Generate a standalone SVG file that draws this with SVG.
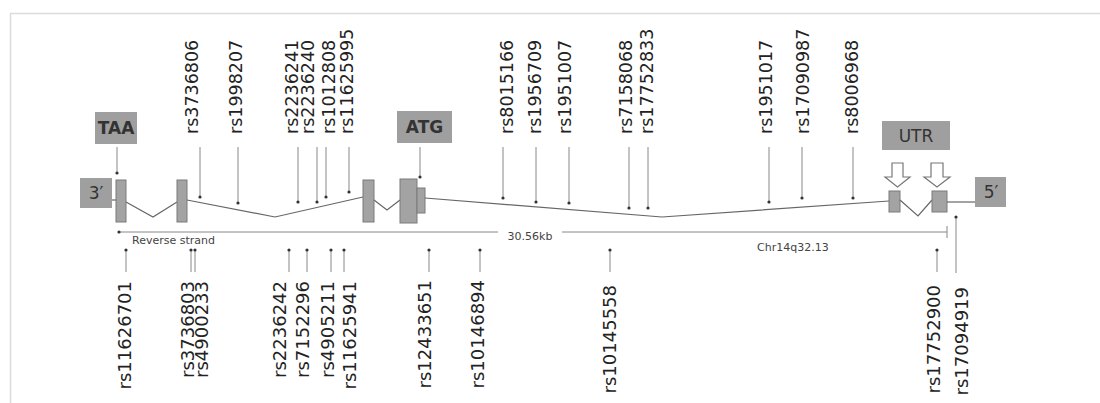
<svg xmlns="http://www.w3.org/2000/svg" width="1100" height="403" viewBox="0 0 1100 403">
<style>
.frame{stroke:#dcdcdc;stroke-width:1.5;fill:none}
.lbl{fill:#9f9f9f}
.lt{font-family:"DejaVu Sans",Verdana,sans-serif;font-size:17px;fill:#333}
.exon{fill:#a3a3a3;stroke:#7a7a7a;stroke-width:1}
.gene{stroke:#666;stroke-width:1.2;fill:none}
.snp{stroke:#888;stroke-width:1;fill:none}
.dot{fill:#333}
.snpt{font-family:"DejaVu Sans",Verdana,sans-serif;font-size:17.5px;fill:#222}
.snpb{font-family:"DejaVu Sans",Verdana,sans-serif;font-size:18px;fill:#222;text-anchor:end}
.small{font-family:"DejaVu Sans",Verdana,sans-serif;font-size:11px;fill:#444}
.harrow{fill:#fff;stroke:#777;stroke-width:1.2}
</style>
<rect x="0" y="0" width="1100" height="403" fill="#fff"/>
<path class="frame" d="M10.5,403 V13.5 H1100"/>

<g id="gene-structure">
  <path class="gene" d="M112,200 H116"/>
  <rect class="exon" x="116" y="180" width="10" height="42"/>
  <path class="gene" d="M126,202 L153,217 L177,202"/>
  <rect class="exon" x="177" y="180" width="10" height="42"/>
  <path class="gene" d="M187,200 L275,217 L363,197"/>
  <rect class="exon" x="363" y="180" width="11" height="42"/>
  <path class="gene" d="M374,200 L387,210 L400,200"/>
  <rect class="exon" x="400" y="179" width="17" height="44"/>
  <rect class="exon" x="417" y="188" width="8" height="25"/>
  <path class="gene" d="M425,198 L662,217 L889,201"/>
  <rect class="exon" x="889" y="191" width="11" height="21"/>
  <path class="gene" d="M900,200 L918,216 L932,200"/>
  <rect class="exon" x="932" y="191" width="15" height="21"/>
  <path class="gene" d="M947,202 H975"/>
</g>

<g id="node-3prime">
  <rect class="lbl" x="80" y="178" width="32" height="30"/>
  <text class="lt" x="96" y="199" text-anchor="middle">3′</text>
</g>
<g id="node-5prime">
  <rect class="lbl" x="975" y="177" width="31" height="30"/>
  <text class="lt" x="991" y="198" text-anchor="middle">5′</text>
</g>
<g id="node-TAA">
  <rect class="lbl" x="95" y="112" width="42" height="32"/>
  <text class="lt" x="116" y="134" text-anchor="middle" font-weight="bold">TAA</text>
</g>
<g id="node-ATG">
  <rect class="lbl" x="397" y="111" width="55" height="32"/>
  <text class="lt" x="424.5" y="133" text-anchor="middle" font-weight="bold">ATG</text>
</g>
<g id="node-UTR">
  <rect class="lbl" x="882" y="121" width="68" height="29"/>
  <text class="lt" x="916" y="142" text-anchor="middle">UTR</text>
</g>

<g id="connectors">
  <path class="snp" d="M117,147 V172 M420,147 V177"/>
  <circle class="dot" cx="117" cy="173" r="1.6"/>
  <circle class="dot" cx="420" cy="177" r="1.6"/>
  <path class="harrow" d="M892,163 H903 V177 H910 L897.5,187 L885,177 H892 Z"/>
  <path class="harrow" d="M931,163 H943 V177 H950 L937,187 L924,177 H931 Z"/>
  <path class="snp" d="M200,147V197 M238,147V203 M298,147V202 M317,147V202 M326,147V197 M349,147V192 M503,147V198 M536,147V202 M569,147V203 M629,147V208 M648,147V208 M769,147V202 M802,147V198 M853,147V198"/>
  <g class="dot">
    <circle cx="200" cy="197" r="1.6"/><circle cx="238" cy="203" r="1.6"/><circle cx="298" cy="202" r="1.6"/>
    <circle cx="317" cy="202" r="1.6"/><circle cx="326" cy="197" r="1.6"/><circle cx="349" cy="192" r="1.6"/>
    <circle cx="503" cy="198" r="1.6"/><circle cx="536" cy="202" r="1.6"/><circle cx="569" cy="203" r="1.6"/>
    <circle cx="629" cy="208" r="1.6"/><circle cx="648" cy="208" r="1.6"/><circle cx="769" cy="202" r="1.6"/>
    <circle cx="802" cy="198" r="1.6"/><circle cx="853" cy="198" r="1.6"/>
  </g>
  <path class="snp" d="M126,250V272 M191,250V272 M195,250V272 M289,250V272 M307,250V272 M331,250V272 M344,250V272 M429,250V272 M480,250V272 M610,250V272 M937,250V272 M956,217V273"/>
  <g class="dot">
    <circle cx="126" cy="250" r="1.6"/><circle cx="191" cy="250" r="1.6"/><circle cx="195" cy="250" r="1.6"/>
    <circle cx="289" cy="250" r="1.6"/><circle cx="307" cy="250" r="1.6"/><circle cx="331" cy="250" r="1.6"/>
    <circle cx="344" cy="250" r="1.6"/><circle cx="429" cy="250" r="1.6"/><circle cx="480" cy="250" r="1.6"/>
    <circle cx="610" cy="250" r="1.6"/><circle cx="937" cy="250" r="1.6"/><circle cx="956" cy="217" r="1.6"/>
  </g>
  <path class="snp" d="M119,232 H498 M562,232 H947 M947,226 V238" stroke="#777"/>
  <circle class="dot" cx="119" cy="232" r="1.6"/>
</g>

<g id="scale-texts">
  <text class="small" x="132" y="244">Reverse strand</text>
  <text class="small" x="530" y="240" text-anchor="middle" font-size="12.5">30.56kb</text>
  <text class="small" x="757" y="251">Chr14q32.13</text>
</g>

<g id="snp-labels-top">
  <text class="snpt" transform="translate(198,134) rotate(-90)">rs3736806</text>
  <text class="snpt" transform="translate(242,134) rotate(-90)">rs1998207</text>
  <text class="snpt" transform="translate(298,134) rotate(-90)">rs2236241</text>
  <text class="snpt" transform="translate(314,134) rotate(-90)">rs2236240</text>
  <text class="snpt" transform="translate(335,134) rotate(-90)">rs1012808</text>
  <text class="snpt" transform="translate(353,134) rotate(-90)">rs11625995</text>
  <text class="snpt" transform="translate(513,134) rotate(-90)">rs8015166</text>
  <text class="snpt" transform="translate(541,134) rotate(-90)">rs1956709</text>
  <text class="snpt" transform="translate(571,134) rotate(-90)">rs1951007</text>
  <text class="snpt" transform="translate(632,134) rotate(-90)">rs7158068</text>
  <text class="snpt" transform="translate(653,134) rotate(-90)">rs17752833</text>
  <text class="snpt" transform="translate(772,134) rotate(-90)">rs1951017</text>
  <text class="snpt" transform="translate(809,134) rotate(-90)">rs17090987</text>
  <text class="snpt" transform="translate(858,134) rotate(-90)">rs8006968</text>
</g>

<g id="snp-labels-bottom">
  <text class="snpb" transform="translate(131,281) rotate(-90)">rs11626701</text>
  <text class="snpb" transform="translate(194,281) rotate(-90)">rs3736803</text>
  <text class="snpb" transform="translate(208,281) rotate(-90)">rs4900233</text>
  <text class="snpb" transform="translate(286,281) rotate(-90)">rs2236242</text>
  <text class="snpb" transform="translate(309,281) rotate(-90)">rs7152296</text>
  <text class="snpb" transform="translate(334,281) rotate(-90)">rs4905211</text>
  <text class="snpb" transform="translate(356,281) rotate(-90)">rs11625941</text>
  <text class="snpb" transform="translate(431,280) rotate(-90)">rs12433651</text>
  <text class="snpb" transform="translate(484,280) rotate(-90)">rs10146894</text>
  <text class="snpb" transform="translate(616,285) rotate(-90)">rs10145558</text>
  <text class="snpb" transform="translate(940,285) rotate(-90)">rs17752900</text>
  <text class="snpb" transform="translate(968,287) rotate(-90)">rs17094919</text>
</g>
</svg>
